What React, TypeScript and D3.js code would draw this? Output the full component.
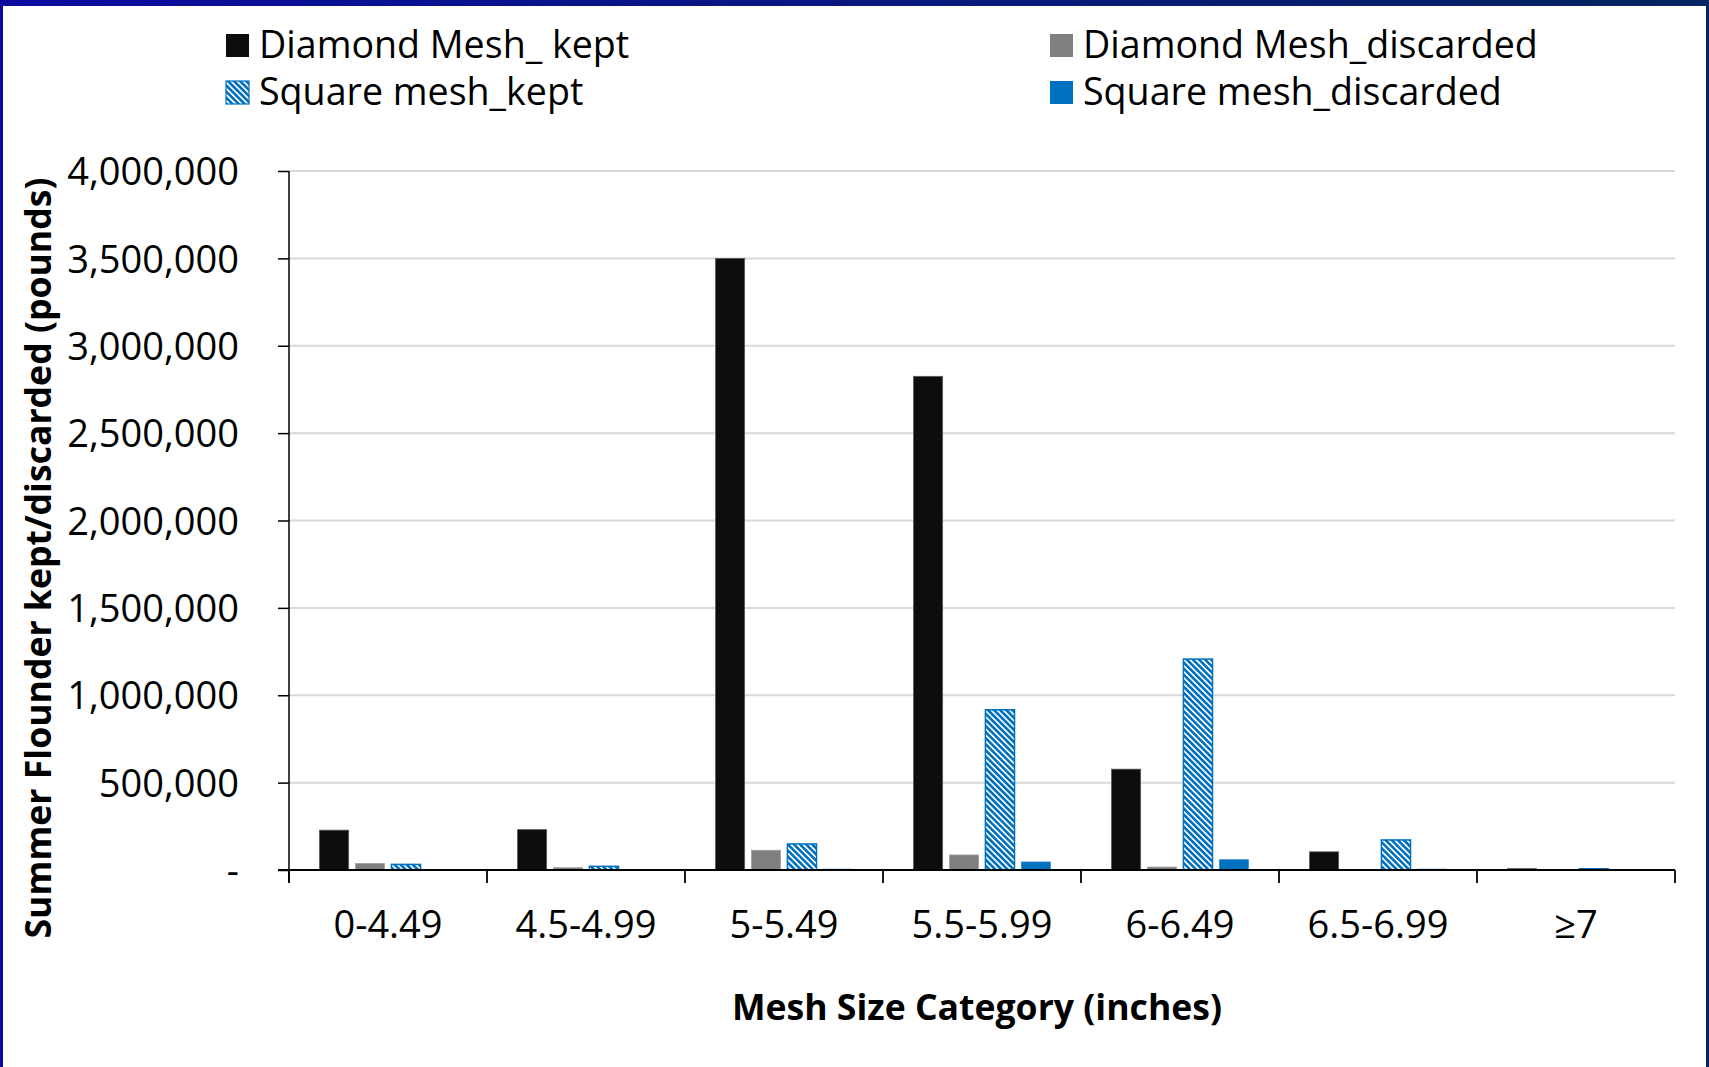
import React, { useEffect, useRef } from "react";
import * as d3 from "d3";

const categories = ["0-4.49", "4.5-4.99", "5-5.49", "5.5-5.99", "6-6.49", "6.5-6.99", "≥7"];
const seriesNames = [
  "Diamond Mesh_ kept",
  "Diamond Mesh_discarded",
  "Square mesh_kept",
  "Square mesh_discarded",
];
const diamondKept = [228000, 231000, 3500000, 2825000, 577000, 104000, 8000];
const diamondDiscarded = [37000, 13000, 113000, 86000, 17000, 0, 0];
const squareKept = [32000, 21000, 149000, 917000, 1207000, 172000, 7000];
const squareDiscarded = [3000, 0, 5000, 46000, 59000, 5000, 0];
const yTicks = [0, 500000, 1000000, 1500000, 2000000, 2500000, 3000000, 3500000, 4000000];

const W = 1709;
const H = 1067;
const FONT = "'Open Sans', 'Noto Sans', sans-serif";

const App: React.FC = () => {
  const svgRef = useRef<SVGSVGElement>(null);

  useEffect(() => {
    if (!svgRef.current) return;
    const svg = d3.select(svgRef.current);
    svg.selectAll("*").remove();

    const margin = { top: 171, right: W - 1675, bottom: H - 870, left: 289 };
    const chartW = W - margin.left - margin.right;
    const chartH = H - margin.top - margin.bottom;

    const defs = svg.append("defs");
    const grad = defs
      .append("linearGradient")
      .attr("id", "topbar")
      .attr("x1", "0%")
      .attr("x2", "100%");
    grad.append("stop").attr("offset", "0%").attr("stop-color", "#0b0ba0");
    grad.append("stop").attr("offset", "100%").attr("stop-color", "#05245f");

    const pat = defs
      .append("pattern")
      .attr("id", "hatch")
      .attr("patternUnits", "userSpaceOnUse")
      .attr("width", 4.3)
      .attr("height", 4.3)
      .attr("patternTransform", "rotate(-45)");
    pat.append("rect").attr("width", 4.3).attr("height", 4.3).attr("fill", "#ffffff");
    pat.append("rect").attr("width", 2.6).attr("height", 4.3).attr("fill", "#0070c0");

    // background + frame
    svg.append("rect").attr("width", W).attr("height", H).attr("fill", "#ffffff");
    svg.append("rect").attr("x", 0).attr("y", 0).attr("width", W).attr("height", 6).attr("fill", "url(#topbar)");
    svg.append("rect").attr("x", 0).attr("y", 0).attr("width", 3).attr("height", H).attr("fill", "#0a0aa0");
    svg.append("rect").attr("x", W - 3).attr("y", 0).attr("width", 3).attr("height", H).attr("fill", "#05256b");

    const g = svg.append("g").attr("transform", `translate(${margin.left},${margin.top})`);

    const x0 = d3.scaleBand().domain(categories).range([0, chartW]).padding(0);
    const x1 = d3
      .scaleBand()
      .domain(seriesNames)
      .range([0, x0.bandwidth()])
      .paddingInner(0.19)
      .paddingOuter(0.85);
    const y = d3.scaleLinear().domain([0, 4000000]).range([chartH, 0]);

    const fills: Record<string, string> = {
      "Diamond Mesh_ kept": "#0d0d0d",
      "Diamond Mesh_discarded": "#7f7f7f",
      "Square mesh_kept": "url(#hatch)",
      "Square mesh_discarded": "#0070c0",
    };
    const strokes: Record<string, string> = {
      "Diamond Mesh_ kept": "#5a5a5a",
      "Diamond Mesh_discarded": "#a0a0a0",
      "Square mesh_kept": "#0070c0",
      "Square mesh_discarded": "#3a8ad0",
    };
    const values: Record<string, number[]> = {
      "Diamond Mesh_ kept": diamondKept,
      "Diamond Mesh_discarded": diamondDiscarded,
      "Square mesh_kept": squareKept,
      "Square mesh_discarded": squareDiscarded,
    };

    // gridlines
    g.selectAll(".grid")
      .data(yTicks.filter((t) => t > 0))
      .enter()
      .append("line")
      .attr("x1", 0)
      .attr("x2", chartW)
      .attr("y1", (d) => y(d))
      .attr("y2", (d) => y(d))
      .attr("stroke", "#d9d9d9")
      .attr("stroke-width", 2);

    // bars
    const rows = categories.flatMap((c, i) =>
      seriesNames.map((s) => ({ cat: c, series: s, value: values[s][i] }))
    );
    g.selectAll(".bar")
      .data(rows.filter((d) => d.value > 0))
      .enter()
      .append("rect")
      .attr("x", (d) => (x0(d.cat) || 0) + (x1(d.series) || 0))
      .attr("y", (d) => y(d.value))
      .attr("width", x1.bandwidth())
      .attr("height", (d) => chartH - y(d.value))
      .attr("fill", (d) => fills[d.series])
      .attr("stroke", (d) => strokes[d.series])
      .attr("stroke-width", (d) => (d.series === "Square mesh_kept" ? 1.5 : 0.8));

    // y axis
    const yAxis = d3
      .axisLeft(y)
      .tickValues(yTicks)
      .tickSize(11)
      .tickPadding(39)
      .tickFormat((d) => (+d === 0 ? "-" : d3.format(",")(+d)));
    const ya = g.append("g").call(yAxis);
    ya.select(".domain").attr("stroke", "#000").attr("stroke-width", 1.5).attr("d", `M0,0V${chartH + 12}`);
    ya.selectAll(".tick line").attr("stroke", "#000").attr("stroke-width", 1.5);
    ya.selectAll("text")
      .attr("fill", "#000")
      .style("font-family", FONT)
      .style("font-size", "38px")
      .attr("dy", "0.36em");
    ya.selectAll(".tick text").attr("x", -50);

    // x axis
    const xa = g.append("g").attr("transform", `translate(0,${chartH})`);
    xa.append("line")
      .attr("x1", -11)
      .attr("x2", chartW)
      .attr("stroke", "#000")
      .attr("stroke-width", 1.8);
    const bounds = [...categories.map((c) => x0(c) || 0), chartW];
    xa.selectAll(".xt")
      .data(bounds)
      .enter()
      .append("line")
      .attr("x1", (d) => d)
      .attr("x2", (d) => d)
      .attr("y1", 0)
      .attr("y2", 13)
      .attr("stroke", "#000")
      .attr("stroke-width", 1.8);
    xa.selectAll(".xl")
      .data(categories)
      .enter()
      .append("text")
      .attr("x", (d) => (x0(d) || 0) + x0.bandwidth() / 2)
      .attr("y", 68)
      .attr("text-anchor", "middle")
      .style("font-family", FONT)
      .style("font-size", "38px")
      .attr("fill", "#000")
      .text((d) => d);

    // axis titles
    svg
      .append("text")
      .attr("x", 977)
      .attr("y", 1020)
      .attr("text-anchor", "middle")
      .style("font-family", FONT)
      .style("font-size", "35.6px")
      .style("font-weight", "bold")
      .attr("fill", "#000")
      .text("Mesh Size Category (inches)");

    svg
      .append("text")
      .attr("transform", "translate(51,558) rotate(-90)")
      .attr("text-anchor", "middle")
      .style("font-family", FONT)
      .style("font-size", "35.6px")
      .style("font-weight", "bold")
      .attr("fill", "#000")
      .text("Summer Flounder kept/discarded (pounds)");

    // legend
    const legendPos = [
      { x: 226, y: 34 },
      { x: 1050, y: 34 },
      { x: 226, y: 81 },
      { x: 1050, y: 81 },
    ];
    const lg = svg
      .selectAll(".legend")
      .data(seriesNames)
      .enter()
      .append("g")
      .attr("transform", (_d, i) => `translate(${legendPos[i].x},${legendPos[i].y})`);
    lg.append("rect")
      .attr("width", 23)
      .attr("height", 23)
      .attr("fill", (d) => fills[d])
      .attr("stroke", (d) => (d === "Square mesh_kept" ? "#0070c0" : "none"))
      .attr("stroke-width", 1.2);
    lg.append("text")
      .attr("x", 33)
      .attr("y", 24)
      .style("font-family", FONT)
      .style("font-size", "37.6px")
      .attr("fill", "#000")
      .text((d) => d);
  }, []);

  return (
    <svg
      ref={svgRef}
      width={W}
      height={H}
      style={{ position: "absolute", left: 0, top: 0, display: "block" }}
    />
  );
};

export default App;
